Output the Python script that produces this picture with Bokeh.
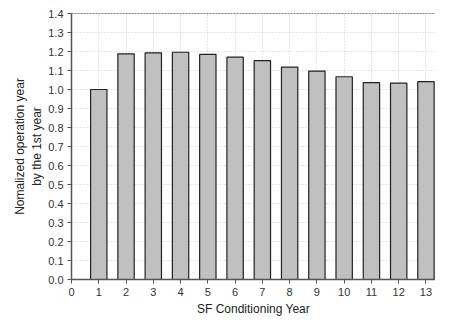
from bokeh.plotting import figure
from bokeh.models import Span, FixedTicker, NumeralTickFormatter, Range1d
from bokeh.embed import file_html
from bokeh.resources import INLINE

years = [1, 2, 3, 4, 5, 6, 7, 8, 9, 10, 11, 12, 13]
values = [1.0, 1.188, 1.193, 1.196, 1.185, 1.17, 1.152, 1.118, 1.097, 1.067, 1.036, 1.034, 1.041]
x_ticks = list(range(0, 14))
y_ticks = [round(i * 0.1, 1) for i in range(0, 15)]

p = figure(width=435, height=318, output_backend="svg", toolbar_location=None,
           x_range=Range1d(0, 13.35), y_range=Range1d(0, 1.4),
           min_border_left=71, min_border_right=0, min_border_top=13, min_border_bottom=38)
p.outline_line_color = None
p.background_fill_color = "white"

p.vbar(x=years, top=values, width=0.6, fill_color="#c0c0c0", line_color="#222222", line_width=1.2)

p.add_layout(Span(location=1.4, dimension="width", line_color="black", line_dash="2 1", line_width=1))

for g in (p.xgrid, p.ygrid):
    g.grid_line_color = "#cccccc"
    g.grid_line_dash = "1 2"
    g.grid_line_width = 1

p.xaxis.ticker = FixedTicker(ticks=x_ticks)
p.yaxis.ticker = FixedTicker(ticks=y_ticks)
p.yaxis.formatter = NumeralTickFormatter(format="0.0")
for ax in (p.xaxis[0], p.yaxis[0]):
    ax.axis_line_color = "#555555"
    ax.axis_line_width = 1.5
    ax.major_tick_line_color = "#555555"
    ax.major_tick_in = 0
    ax.major_tick_out = 4
    ax.minor_tick_line_color = None
    ax.major_label_text_font = "Liberation Sans"
    ax.major_label_text_font_size = "11px"
    ax.major_label_text_color = "#333333"
    ax.axis_label_text_font = "Liberation Sans"
    ax.axis_label_text_font_size = "12px"
    ax.axis_label_text_font_style = "normal"
    ax.axis_label_text_color = "#222222"

p.xaxis.axis_label = "SF Conditioning Year"
p.yaxis.axis_label = "Nomalized operation year\nby the 1st year"
p.xaxis.major_label_standoff = 4
p.yaxis.major_label_standoff = 4
p.xaxis.axis_label_standoff = 3
p.yaxis.axis_label_standoff = 1

open("out.html", "w").write(file_html(p, INLINE))
